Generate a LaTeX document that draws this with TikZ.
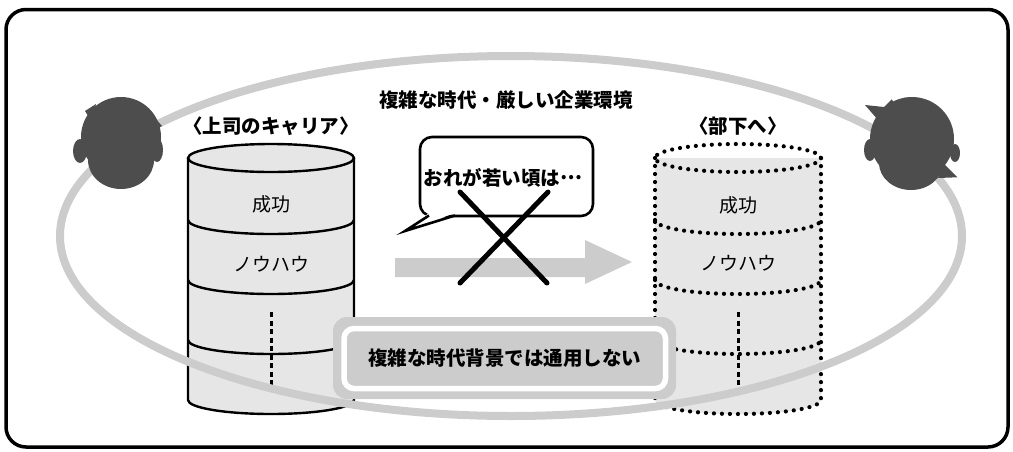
\documentclass[tikz,border=0pt]{standalone}
\usepackage{fontspec}
\setmainfont{Noto Sans CJK JP}[BoldFont={Noto Sans CJK JP Black}]
\definecolor{headgray}{HTML}{4D4D4D}
\definecolor{ringgray}{HTML}{CCCCCC}
\definecolor{cylfill}{HTML}{E6E6E6}
\tikzset{
  head/.style={fill=headgray},
  cylline/.style={line width=2.4},
  cyldots/.style={line width=4.2, line cap=round, dash pattern=on 0pt off 8pt},
  midline/.style={line width=3, dash pattern=on 5pt off 3.5pt},
  bold19/.style={font=\fontsize{19.5}{22}\selectfont\bfseries},
  plain19/.style={font=\fontsize{19}{22}\selectfont},
}
\begin{document}
\begin{tikzpicture}[x=1pt,y=-1pt]
\useasboundingbox (0,0) rectangle (1013,451);
% outer frame
\draw[line width=3.5, rounded corners=20] (6,9.5) rectangle (1008,447);

% ---- boss's career: solid cylinder ----
\fill[cylfill] (188,158) -- (188,400) arc[start angle=180,end angle=0,x radius=83,y radius=14] -- (354,158) -- cycle;
\draw[cylline, fill=cylfill] (271,158) ellipse [x radius=83, y radius=14];
\draw[cylline] (188,158) -- (188,400) arc[start angle=180,end angle=0,x radius=83,y radius=14] -- (354,158);
\foreach \yy in {220,280,340}
  \draw[cylline] (188,\yy) arc[start angle=180,end angle=0,x radius=83,y radius=14];
\coordinate (lvtop) at (271,312);
\coordinate (lvbot) at (271,388);
\draw[midline] (lvtop) -- (lvbot);
\node[plain19] (lsuccess) at (271,204) {成功};
\node[plain19] (lknow) at (271,264) {ノウハウ};

% ---- subordinates: dotted cylinder ----
\fill[cylfill] (655,158) -- (655,400) arc[start angle=180,end angle=0,x radius=83,y radius=14] -- (821,158) -- cycle;
\draw[cyldots] (738,158) ellipse [x radius=83, y radius=14];
\draw[cyldots] (655,158) -- (655,400) arc[start angle=180,end angle=0,x radius=83,y radius=14] -- (821,158);
\foreach \yy in {220,280,340}
  \draw[cyldots] (655,\yy) arc[start angle=180,end angle=0,x radius=83,y radius=14];
\coordinate (rvtop) at (738,312);
\coordinate (rvbot) at (738,390);
\draw[midline] (rvtop) -- (rvbot);
\node[plain19] (rsuccess) at (738,205) {成功};
\node[plain19] (rknow) at (738,263) {ノウハウ};

% ---- transfer arrow ----
\fill[ringgray] (395,258) -- (585,258) -- (585,240) -- (632,262) -- (585,284) -- (585,277) -- (395,277) -- cycle;

% ---- speech bubble ----
\node[draw, line width=2.6, fill=white, rounded corners=12, minimum width=173, minimum height=79, inner sep=0] (bubble) at (506.5,176.5) {};
\node[bold19] (bubbletext) at (503,178) {おれが若い頃は\raisebox{0.33em}{…}};
\fill[white] (429,213) -- (405,231) -- (455,213) -- cycle;
\draw[line width=2.6, line join=miter] (429,215.5) -- (405,231) -- (455,215.5);

% ---- cross ----
\coordinate (xa) at (460,192);
\coordinate (xb) at (547,283);
\coordinate (xc) at (548,192);
\coordinate (xd) at (460,283);
\draw[line width=5, line cap=round] (xa) -- (xb);
\draw[line width=5, line cap=round] (xc) -- (xd);

% ---- surrounding ring ----
\draw[ringgray, line width=8] (511,236) ellipse [x radius=451, y radius=180];

% ---- left head ----
\fill[head] (121,137) circle[radius=40];
\fill[head] (121,160) ellipse[x radius=33, y radius=29];
\fill[head] (80,151) ellipse[x radius=7, y radius=12];
\fill[head] (157,150) ellipse[x radius=6, y radius=12];
\fill[head] (148,110) -- (162,126) -- (150,132) -- cycle;
\fill[head] (85,111) -- (96,104) -- (92,122) -- cycle;

% ---- right head ----
\fill[head] (912,139) circle[radius=42];
\fill[head] (911,163) ellipse[x radius=32, y radius=27];
\fill[head] (870,150) ellipse[x radius=6, y radius=11];
\fill[head] (955,153) ellipse[x radius=5, y radius=9];
\fill[head] (865,105) -- (884,107) -- (891.7,99.3) -- (896,106) -- (905,97.3)
  -- (915,110) -- (885,128) -- cycle;
\fill[head] (944,164) -- (957.3,177.3) -- (938,178) -- cycle;

% ---- message box ----
\node[fill=ringgray, rounded corners=14, minimum width=343, minimum height=82, inner sep=0] (msgframe) at (504.5,358) {};
\node[fill=ringgray, draw=white, line width=5.5, rounded corners=10, minimum width=321.5, minimum height=60, inner sep=0, bold19] (msg) at (504.75,358.5) {複雑な時代背景では通用しない};

% ---- headings ----
\node[bold19] (title) at (506,100) {複雑な時代・厳しい企業環境};
\node[bold19] (bosslabel) at (271,126) {〈上司のキャリア〉};
\node[bold19] (sublabel) at (738,126) {〈部下へ〉};
\end{tikzpicture}
\end{document}
